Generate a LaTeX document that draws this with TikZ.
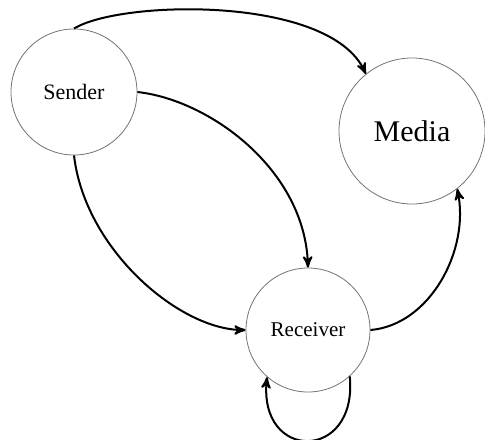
\documentclass[tikz,border=0pt]{standalone}
\usepackage{fontspec}
\setmainfont{Liberation Serif}
\usepackage{tikz}
\usetikzlibrary{arrows}

\begin{document}
\begin{tikzpicture}[x=0.5pt,y=-0.5pt,
		agent/.style={circle, draw=black!55, line width=0.4pt, inner sep=0pt},
		flow/.style={->, >=stealth', line width=1pt}]
		\useasboundingbox (0,0) rectangle (485,439);
		% the three parties
		\node[agent, minimum size=63pt, font=\fontsize{11}{13}\selectfont] (sender) at (74,92) {Sender};
		\node[agent, minimum size=73pt, font=\fontsize{15}{17}\selectfont] (media) at (412,131) {Media};
		\node[agent, minimum size=62pt, font=\fontsize{10.5}{12}\selectfont] (receiver) at (308,330) {Receiver};
		%%%%
		\draw[flow] (sender.north) .. controls (120,0) and (330,-5) .. (media.129);
		\draw[flow] (sender.east) .. controls (210,100) and (305,170) .. (receiver.north);
		\draw[flow] (sender.south) .. controls (85,250) and (180,330) .. (receiver.west);
		\draw[flow] (receiver.east) .. controls (430,325) and (470,250) .. (media.308);
		% loop back into the receiver
		\draw[flow] (receiver.-48) .. controls (358,462) and (258,462) .. (receiver.-131);
\end{tikzpicture}
\end{document}
